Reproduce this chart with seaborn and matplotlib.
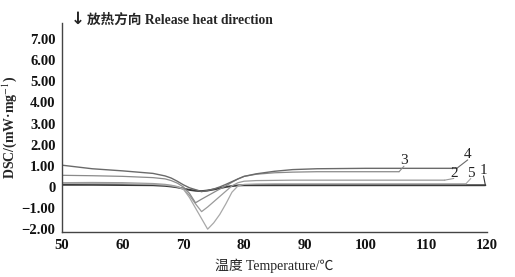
import matplotlib
matplotlib.use("Agg")
import matplotlib.pyplot as plt
import seaborn as sns
import pandas as pd
from matplotlib.ticker import FuncFormatter

# temperature grid shared by the five DSC curves (°C)
temp = [50, 55, 60, 65, 67, 68, 69, 70, 71, 72, 73, 74, 75, 76, 77, 78, 79, 80, 82, 85, 88, 92, 100]

dsc_1 = [0.10, 0.10, 0.09, 0.08, 0.05, 0.02, -0.02, -0.08, -0.14, -0.18, -0.20, -0.17, -0.12, -0.06, 0.00, 0.04, 0.07, 0.08, 0.08, 0.08, 0.08, 0.08, 0.08]
dsc_2 = [0.20, 0.21, 0.20, 0.16, 0.12, 0.08, 0.02, -0.10, -0.40, -0.80, -1.17, -0.95, -0.70, -0.45, -0.20, 0.05, 0.20, 0.27, 0.30, 0.31, 0.32, 0.32, 0.32]
dsc_3 = [0.55, 0.53, 0.50, 0.44, 0.38, 0.30, 0.18, 0.00, -0.30, -0.75, -0.58, -0.42, -0.26, -0.10, 0.05, 0.22, 0.38, 0.50, 0.60, 0.67, 0.70, 0.72, 0.72]
dsc_4 = [1.03, 0.86, 0.76, 0.64, 0.52, 0.42, 0.27, 0.10, -0.04, -0.13, -0.22, -0.17, -0.10, 0.00, 0.12, 0.25, 0.38, 0.50, 0.62, 0.74, 0.82, 0.86, 0.88]
dsc_5 = [0.17, 0.16, 0.15, 0.12, 0.08, 0.05, 0.00, -0.10, -0.50, -1.00, -1.50, -2.00, -1.70, -1.30, -0.80, -0.25, 0.05, 0.12, 0.14, 0.15, 0.15, 0.15, 0.15]

labels = ["1", "2", "3", "4", "5"]
end_temp = [119.7, 113.0, 105.5, 115.0, 116.5]
label_x = [119.4, 114.5, 106.3, 116.8, 117.3]
label_y = [0.52, 0.40, 0.98, 1.28, 0.40]

colors = ["#3a3a3a", "#9a9a9a", "#8a8a8a", "#6a6a6a", "#a8a8a8"]
widths = [1.4, 0.9, 0.9, 1.0, 0.9]

rows = []
for lab, vals, xe in zip(labels, [dsc_1, dsc_2, dsc_3, dsc_4, dsc_5], end_temp):
    for t, v in zip(temp + [xe], vals + [vals[-1]]):
        rows.append({"curve": lab, "temp": t, "dsc": v})
df = pd.DataFrame(rows)

sns.set_style("white")
plt.rcParams["font.family"] = ["Liberation Serif", "Noto Sans CJK SC", "DejaVu Sans"]
plt.rcParams["mathtext.fontset"] = "stix"

fig = plt.figure(figsize=(5.15, 2.77), dpi=100)
ax = fig.add_axes([0.120, 0.162, 0.826, 0.755])

for lab, c, lw in zip(labels, colors, widths):
    sub = df[df["curve"] == lab]
    sns.lineplot(data=sub, x="temp", y="dsc", ax=ax, color=c, linewidth=lw,
                 sort=False, estimator=None)

# leader lines and curve numbers
for lab, xe, lx, ly, c, vals in zip(labels, end_temp, label_x, label_y, colors,
                                    [dsc_1, dsc_2, dsc_3, dsc_4, dsc_5]):
    ax.plot([xe, lx], [vals[-1], ly], color=c, linewidth=0.8)
    ax.text(lx, ly - 0.05, lab, ha="center", va="bottom", fontsize=11, color="#222222")

ax.set_xlim(50, 120)
ax.set_ylim(-2.14, 7.76)
ax.set_xticks(range(50, 121, 10))
ax.set_yticks(range(-2, 8))
ax.yaxis.set_major_formatter(FuncFormatter(
    lambda v, p: "0" if v == 0 else f"{v:.2f}".replace("-", "\u2212")))

for s in ["top", "right"]:
    ax.spines[s].set_visible(False)
for s in ["left", "bottom"]:
    ax.spines[s].set_color("#444444")
    ax.spines[s].set_linewidth(1.0)

ax.tick_params(axis="x", direction="in", length=3, width=0.8, colors="#444444",
               labelcolor="#111111", labelsize=10.5, pad=5)
ax.tick_params(axis="y", direction="out", length=3, width=0.8, colors="#444444",
               labelcolor="#111111", labelsize=10.5, pad=1.5)
for t in ax.get_xticklabels() + ax.get_yticklabels():
    t.set_fontweight("bold")

ax.set_xlabel("温度 Temperature/℃", fontsize=10, labelpad=5)
ax.set_ylabel("DSC/(mW·mg$^{-1}$)", fontsize=10, fontweight="bold", labelpad=2)

fig.text(0.138, 0.900, "↓", fontsize=12, fontweight="bold", va="bottom", ha="left",
         family="DejaVu Sans")
fig.text(0.168, 0.902, "放热方向 Release heat direction", fontsize=9.8,
         fontweight="bold", va="bottom", ha="left")

fig.savefig("out.png", dpi=100)
